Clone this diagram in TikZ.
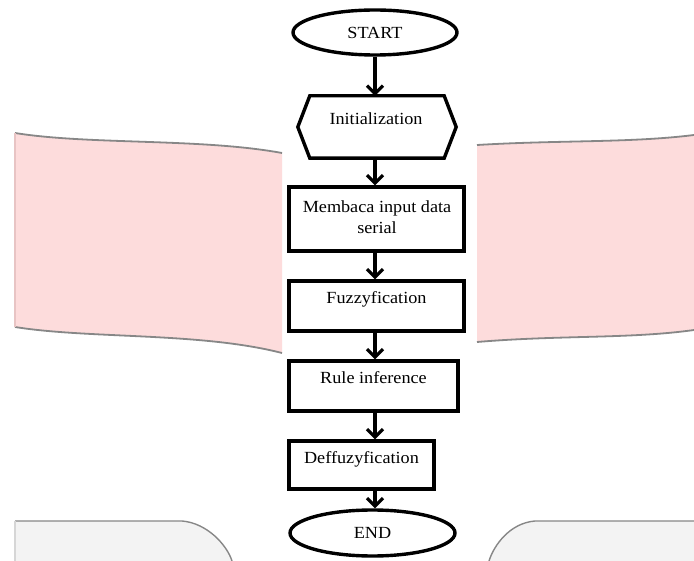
\documentclass[tikz,border=0pt]{standalone}
\usepackage{fontspec}
\setmainfont{Liberation Serif}[FakeStretch=1.07]
\usetikzlibrary{arrows.meta,shapes.geometric}
\definecolor{pinkfill}{RGB}{253,220,220}
\definecolor{pinkedge}{RGB}{232,196,196}
\definecolor{edgegray}{RGB}{135,135,135}
\definecolor{panelgray}{RGB}{243,243,243}
\definecolor{panelline}{RGB}{214,214,214}
\begin{document}
\begin{tikzpicture}[x=1pt,y=-1pt,
  box/.style={draw=black, line width=3.4pt, inner sep=0pt},
  term/.style={ellipse, draw=black, line width=3.4pt, inner sep=0pt, font=\fontsize{17pt}{21.6pt}\selectfont},
  lbl/.style={font=\fontsize{17pt}{21.6pt}\selectfont, anchor=base, inner sep=0pt, align=center},
  arr/.style={line width=3.2pt, -{Straight Barb[length=8pt,width=16pt]}},
  shade/.style={draw=edgegray, line width=1.8pt}]
\useasboundingbox (0,0) rectangle (694,561);
\fill[white] (0,0) rectangle (694,561);
% left pink banner
\fill[pinkfill] (15,133) .. controls (90,145) and (200,138) .. (282,153) -- (282,353)
  .. controls (200,332) and (90,339) .. (15,327) -- cycle;
\draw[shade] (15,133) .. controls (90,145) and (200,138) .. (282,153);
\draw[shade] (15,327) .. controls (90,339) and (200,332) .. (282,353);
\draw[pinkedge, line width=1.2pt] (15,133) -- (15,327);
% right pink banner
\fill[pinkfill] (477,145) .. controls (560,140) and (630,143) .. (694,135) -- (694,330)
  .. controls (630,339) and (560,335) .. (477,342) -- cycle;
\draw[shade] (477,145) .. controls (560,140) and (630,143) .. (694,135);
\draw[shade] (477,342) .. controls (560,335) and (630,339) .. (694,330);
% bottom grey panels
\fill[panelgray] (15,521) -- (182,521) .. controls (207,523) and (227,545) .. (232,561) -- (15,561) -- cycle;
\draw[shade, line width=1.4pt] (15,521) -- (182,521) .. controls (207,523) and (227,545) .. (232,561);
\draw[panelline, line width=1.5pt] (15,521) -- (15,561);
\fill[panelgray] (694,521) -- (535,521) .. controls (510,523) and (494,545) .. (489,561) -- (694,561) -- cycle;
\draw[shade, line width=1.4pt] (694,521) -- (535,521) .. controls (510,523) and (494,545) .. (489,561);
% flowchart
\coordinate (spine) at (375,0);
\node[term, minimum width=164pt, minimum height=45pt] (start) at (375,32.5) {START};
\node[minimum width=158pt, minimum height=62pt, inner sep=0pt] (init) at (377,127) {};
\draw[line width=3.4pt, line join=miter] (init.west) -- ([xshift=12pt]init.north west) -- ([xshift=-12pt]init.north east)
  -- (init.east) -- ([xshift=-12pt]init.south east) -- ([xshift=12pt]init.south west) -- cycle;
\node[lbl] (initText) at (376,125) {Initialization};
\node[box, minimum width=175pt, minimum height=64pt] (baca) at (376.5,219) {};
\node[lbl, anchor=center] (bacaText) at (377,217) {Membaca input data\\serial};
\node[box, minimum width=175pt, minimum height=50pt] (fuzz) at (376.5,306) {};
\node[lbl] (fuzzText) at (376.5,304) {Fuzzyfication};
\node[box, minimum width=169pt, minimum height=50pt] (rule) at (373.5,386) {};
\node[lbl] (ruleText) at (373.5,384) {Rule inference};
\node[box, minimum width=145pt, minimum height=48pt] (defz) at (361.5,465) {};
\node[lbl] (defzText) at (361.5,464) {Deffuzyfication};
\node[term, minimum width=165pt, minimum height=46pt] (end) at (372.5,533) {END};
% connectors
\draw[arr] (start.south -| spine) -- (init.north -| spine);
\draw[arr] (init.south -| spine) -- (baca.north -| spine);
\draw[arr] (baca.south -| spine) -- (fuzz.north -| spine);
\draw[arr] (fuzz.south -| spine) -- (rule.north -| spine);
\draw[arr] (rule.south -| spine) -- (defz.north -| spine);
\draw[arr] (defz.south -| spine) -- (end.north -| spine);
\end{tikzpicture}
\end{document}
